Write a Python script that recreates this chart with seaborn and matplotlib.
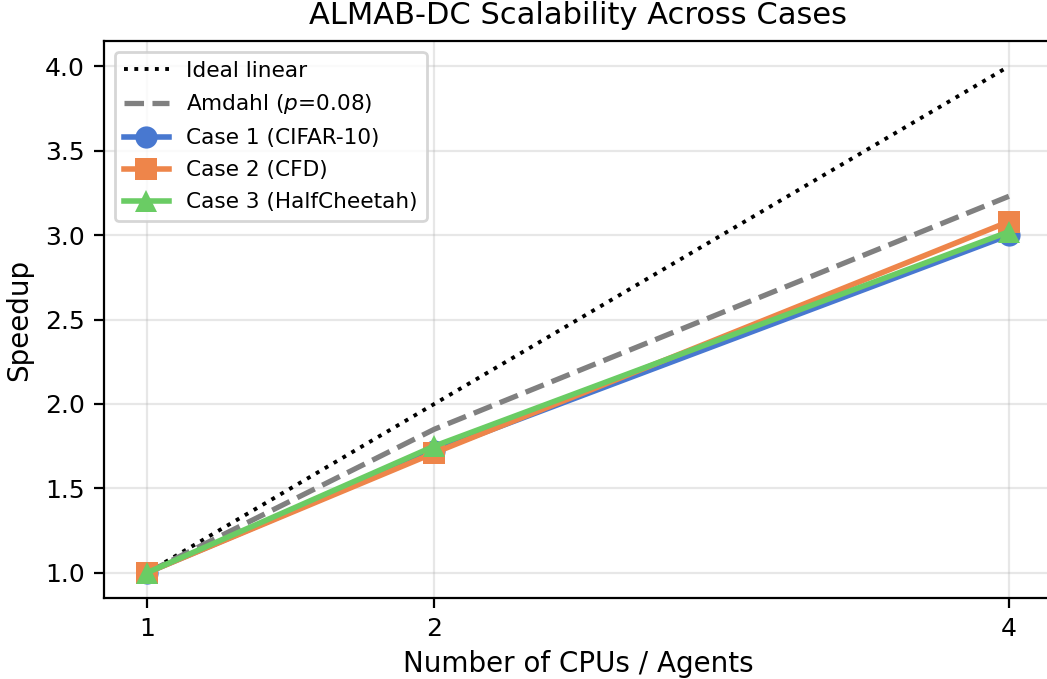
import numpy as np
import pandas as pd
import matplotlib
matplotlib.use("Agg")
import matplotlib.pyplot as plt
import seaborn as sns

# datos
cpus = [1, 2, 4]
ideal = [1.0, 2.0, 4.0]
amdahl = [1.0, 1.85, 3.23]
case1 = [1.0, 1.72, 3.0]
case2 = [1.0, 1.71, 3.08]
case3 = [1.0, 1.75, 3.02]

case_names = ["Case 1 (CIFAR-10)", "Case 2 (CFD)", "Case 3 (HalfCheetah)"]
case_vals = [case1, case2, case3]

colors = sns.color_palette("muted")
markers = ["o", "s", "^"]

fig = plt.figure(figsize=(1047 / 200, 679 / 200), dpi=200)
ax = fig.add_axes([104 / 1047, (679 - 598) / 679, (1052 - 104) / 1047, (598 - 41) / 679])

sns.lineplot(x=cpus, y=ideal, ax=ax, color="black", linestyle=":", linewidth=1.4,
             label="Ideal linear")
sns.lineplot(x=cpus, y=amdahl, ax=ax, color="gray", linestyle="--", linewidth=1.9,
             label="Amdahl ($p$=0.08)")

for name, vals, c, m in zip(case_names, case_vals, colors, markers):
    df = pd.DataFrame({"cpus": cpus, "speedup": vals})
    sns.lineplot(data=df, x="cpus", y="speedup", ax=ax, color=c, marker=m,
                 markersize=8, markeredgewidth=0, linewidth=2, label=name)

ax.set_xticks(cpus)
ax.set_xticklabels([str(c) for c in cpus])
ax.set_xlim(0.85, 4.15)
ax.set_ylim(0.85, 4.15)
ax.grid(True, alpha=0.3)
ax.set_xlabel("Number of CPUs / Agents", fontsize=10, labelpad=3)
ax.set_ylabel("Speedup", fontsize=10)
ax.set_title("ALMAB-DC Scalability Across Cases", fontsize=11)
ax.tick_params(labelsize=9)
ax.legend(loc="upper left", fontsize=7.8, labelspacing=0.55, handlelength=2.1)

fig.savefig("out.png", dpi=200)
